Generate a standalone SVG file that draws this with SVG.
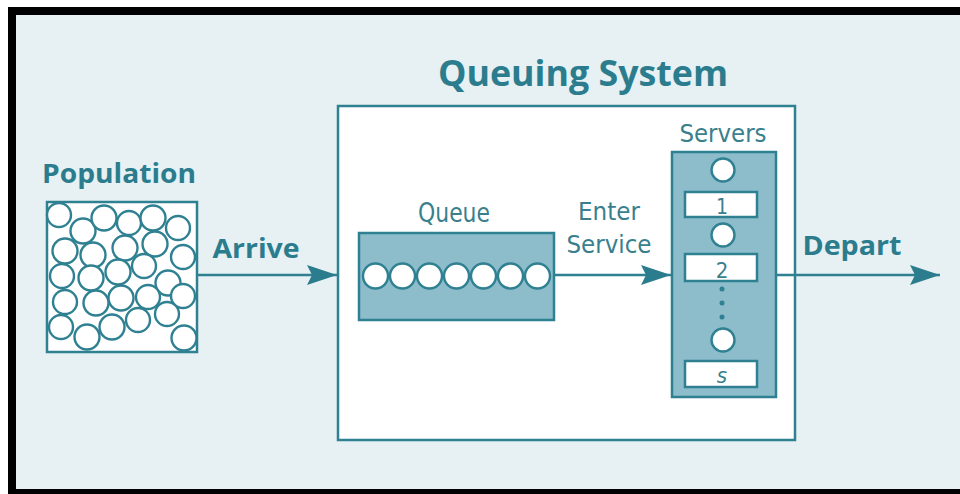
<svg xmlns="http://www.w3.org/2000/svg" width="960" height="494" viewBox="0 0 960 494">
<defs>
<style>
.bold{font-family:"Open Sans","Liberation Sans",sans-serif;font-weight:700;fill:#2b7d8e}
.cond{font-family:"DejaVu Sans","Liberation Sans",sans-serif;font-stretch:condensed;fill:#3a7f8d}
.box{fill:#ffffff;stroke:#2f8192;stroke-width:2.5}
.dark{fill:#8dbccb;stroke:#2f8192;stroke-width:2.5}
.c{fill:#ffffff;stroke:#2f8192;stroke-width:2.4}
.wire{stroke:#2f8192;stroke-width:2.5;fill:none}
</style>
<marker id="ah" markerUnits="userSpaceOnUse" markerWidth="32" markerHeight="24" refX="30" refY="12" orient="auto">
<path d="M0,2 L30,12 L0,22 L5,12 Z" fill="#2b7d8e"/>
</marker>
</defs>
<rect x="0" y="0" width="960" height="494" fill="#ffffff"/>
<rect x="8" y="7" width="952" height="487" fill="#000000"/>
<rect x="16" y="15" width="944" height="474" fill="#e7f0f3"/>

<g id="title">
<text class="bold" x="583" y="86" font-size="36" text-anchor="middle" textLength="290" lengthAdjust="spacingAndGlyphs">Queuing System</text>
</g>

<g id="system">
<rect class="box" x="338" y="106" width="457" height="334"/>
</g>

<g id="population">
<text class="bold" x="119" y="183" font-size="26" text-anchor="middle" textLength="154" lengthAdjust="spacingAndGlyphs">Population</text>
<rect class="box" x="47" y="202" width="150" height="150"/>
<g>
<circle class="c" cx="59" cy="215" r="12"/>
<circle class="c" cx="83" cy="231" r="12.5"/>
<circle class="c" cx="104" cy="218" r="12.5"/>
<circle class="c" cx="129" cy="223" r="12"/>
<circle class="c" cx="153" cy="218" r="12.5"/>
<circle class="c" cx="178" cy="228" r="12"/>
<circle class="c" cx="65" cy="251" r="12.5"/>
<circle class="c" cx="93" cy="255" r="12.5"/>
<circle class="c" cx="125" cy="248" r="12.5"/>
<circle class="c" cx="155" cy="244" r="12.5"/>
<circle class="c" cx="183" cy="257" r="12"/>
<circle class="c" cx="62" cy="276" r="12"/>
<circle class="c" cx="91" cy="278" r="12.5"/>
<circle class="c" cx="118" cy="272" r="12.5"/>
<circle class="c" cx="144" cy="266" r="12"/>
<circle class="c" cx="168" cy="283" r="12.5"/>
<circle class="c" cx="65" cy="302" r="12"/>
<circle class="c" cx="96" cy="303" r="12.5"/>
<circle class="c" cx="121" cy="298" r="12.5"/>
<circle class="c" cx="148" cy="297" r="12"/>
<circle class="c" cx="183" cy="296" r="12"/>
<circle class="c" cx="61" cy="327" r="12"/>
<circle class="c" cx="87" cy="337" r="12.5"/>
<circle class="c" cx="112" cy="327" r="12.5"/>
<circle class="c" cx="138" cy="320" r="12"/>
<circle class="c" cx="167" cy="314" r="12"/>
<circle class="c" cx="184" cy="338" r="12.5"/>
</g>
</g>

<g id="queue">
<text class="cond" x="454" y="222" font-size="26" text-anchor="middle" textLength="72" lengthAdjust="spacingAndGlyphs">Queue</text>
<rect class="dark" x="359" y="233" width="195" height="87"/>
<circle class="c" cx="375.5" cy="276" r="12.5"/>
<circle class="c" cx="402.5" cy="276" r="12.5"/>
<circle class="c" cx="429.5" cy="276" r="12.5"/>
<circle class="c" cx="456.5" cy="276" r="12.5"/>
<circle class="c" cx="483.5" cy="276" r="12.5"/>
<circle class="c" cx="510.5" cy="276" r="12.5"/>
<circle class="c" cx="537.5" cy="276" r="12.5"/>
</g>

<g id="servers">
<text class="cond" x="723" y="142" font-size="25" text-anchor="middle" textLength="87" lengthAdjust="spacingAndGlyphs">Servers</text>
<rect class="dark" x="672" y="152" width="104" height="245"/>
<circle class="c" cx="723" cy="170" r="11.5"/>
<rect class="box" x="685" y="192" width="72" height="25" stroke-width="2"/>
<text class="cond" x="722" y="214" font-size="21" text-anchor="middle">1</text>
<circle class="c" cx="723" cy="235" r="11.5"/>
<rect class="box" x="685" y="254" width="72" height="27" stroke-width="2"/>
<text class="cond" x="722" y="278" font-size="22" text-anchor="middle">2</text>
<circle cx="722" cy="289" r="2.5" fill="#2f8192"/>
<circle cx="722" cy="303" r="2.5" fill="#2f8192"/>
<circle cx="722" cy="317" r="2.5" fill="#2f8192"/>
<circle class="c" cx="723" cy="340" r="11.5"/>
<rect class="box" x="685" y="361" width="72" height="26" stroke-width="2"/>
<text class="cond" x="722" y="383" font-size="22" font-style="italic" text-anchor="middle">s</text>
</g>

<g id="connectors">
<line class="wire" x1="197" y1="275" x2="337" y2="275" marker-end="url(#ah)"/>
<line class="wire" x1="554" y1="275" x2="671" y2="275" marker-end="url(#ah)"/>
<line class="wire" x1="776" y1="275" x2="940" y2="275" marker-end="url(#ah)"/>
<text class="bold" x="256" y="258" font-size="26" text-anchor="middle" textLength="87" lengthAdjust="spacingAndGlyphs">Arrive</text>
<text class="cond" x="609" y="220" font-size="25" text-anchor="middle" textLength="62" lengthAdjust="spacingAndGlyphs">Enter</text>
<text class="cond" x="609" y="253" font-size="25" text-anchor="middle" textLength="85" lengthAdjust="spacingAndGlyphs">Service</text>
<text class="bold" x="852" y="255" font-size="27" text-anchor="middle" textLength="99" lengthAdjust="spacingAndGlyphs">Depart</text>
</g>
</svg>
